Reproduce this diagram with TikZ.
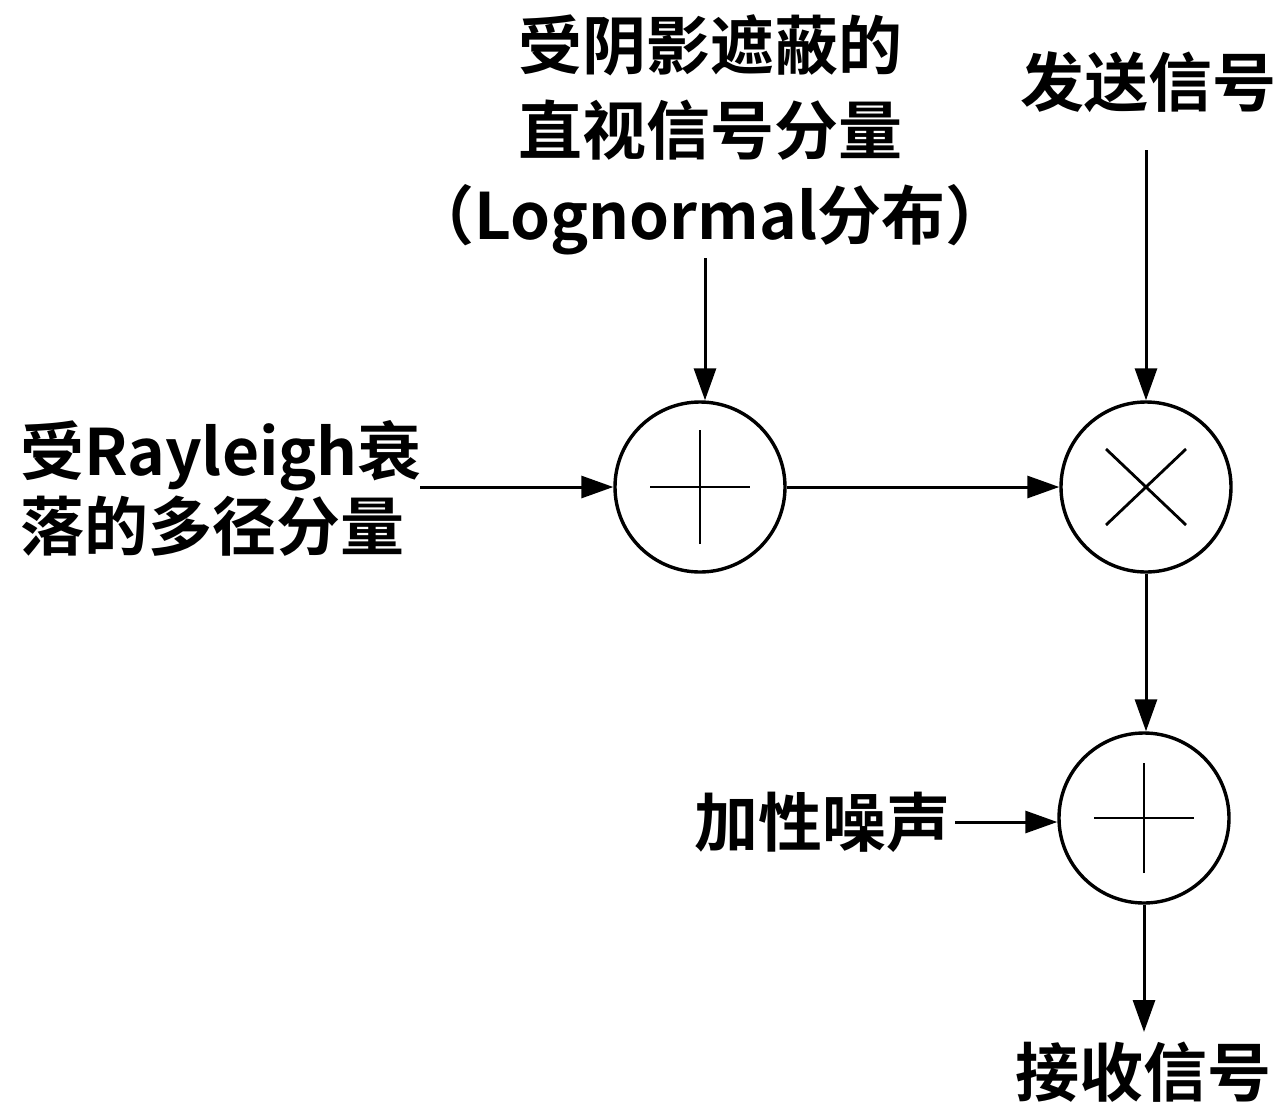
\documentclass[tikz,border=0pt]{standalone}
\usepackage{fontspec}
\setmainfont{Noto Sans CJK SC}[BoldFont={Noto Sans CJK SC Bold}]
\usetikzlibrary{arrows.meta}
\begin{document}
\begin{tikzpicture}[x=1pt,y=-1pt,
  lbl/.style={font=\fontsize{64}{85}\selectfont\bfseries, inner sep=0pt, align=center},
  op/.style={draw, circle, line width=3.4pt, minimum size=170pt, inner sep=0pt},
  arr/.style={line width=3pt, -{Triangle[length=32pt,width=22pt]}},
  sym/.style={line width=2.8pt}]
\useasboundingbox (0,0) rectangle (1278,1109);
% operator nodes
\node[op] (c1) at (700,487) {};
\node[op] (c2) at (1146,487) {};
\node[op] (c3) at (1144,818) {};
% symbols
\draw[sym] ([xshift=-50pt]c1.center) -- ([xshift=50pt]c1.center);
\draw[sym] ([yshift=-57pt]c1.center) -- ([yshift=57pt]c1.center);
\draw[sym] ([shift={(-40pt,-38pt)}]c2.center) -- ([shift={(40pt,38pt)}]c2.center);
\draw[sym] ([shift={(-40pt,38pt)}]c2.center) -- ([shift={(40pt,-38pt)}]c2.center);
\draw[sym] ([xshift=-50pt]c3.center) -- ([xshift=50pt]c3.center);
\draw[sym] ([yshift=-55pt]c3.center) -- ([yshift=55pt]c3.center);
% labels
\node[lbl] (los) at (710,135) {受阴影遮蔽的\\直视信号分量\\（Lognormal分布）};
\node[lbl] (tx) at (1148,82) {发送信号};
\node[lbl, align=left, anchor=west, font=\fontsize{64}{75}\selectfont\bfseries] (ray) at (20,488) {受Rayleigh衰\\落的多径分量};
\node[lbl] (noise) at (822,822) {加性噪声};
\node[lbl] (rx) at (1143,1072) {接收信号};
% connector start/end points
\coordinate (a1) at (705,258);
\coordinate (a2) at (1146,150);
\coordinate (a3) at (420,487);
\coordinate (a4) at (955,822);
\coordinate (a5) at (1144,1032);
% connectors
\draw[arr] (a1) -- (a1 |- c1.north);
\draw[arr] (a2) -- (c2.north);
\draw[arr] (a3) -- (c1.west);
\draw[arr] (c1.east) -- (c2.west);
\draw[arr] (c2.south) -- (c2.south |- c3.north);
\draw[arr] (a4) -- (a4 -| c3.west);
\draw[arr] (c3.south) -- (a5);
\end{tikzpicture}
\end{document}
